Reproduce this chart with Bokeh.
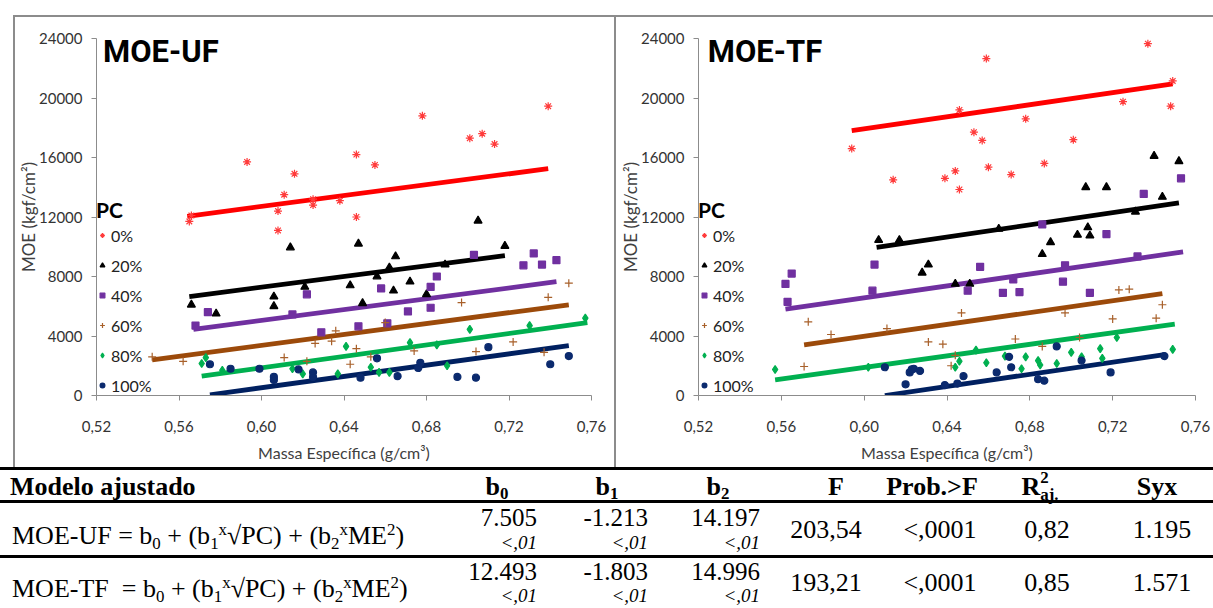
from bokeh.plotting import figure
from bokeh.models import Range1d, FixedTicker, Legend, LegendItem, Label, Div, Spacer
from bokeh.layouts import row, column
from bokeh.embed import file_html
from bokeh.resources import INLINE

# ---------------- data ----------------
pc_labels = ["0%", "20%", "40%", "60%", "80%", "100%"]
x_ticks = [0.52, 0.56, 0.60, 0.64, 0.68, 0.72, 0.76]
x_tick_labels = ["0,52", "0,56", "0,60", "0,64", "0,68", "0,72", "0,76"]
y_ticks = [0, 4000, 8000, 12000, 16000, 20000, 24000]
y_tick_labels = ["0", "4000", "8000", "12000", "16000", "20000", "24000"]

# MOE-UF
uf_me_pc0 = [0.565, 0.566, 0.593, 0.608, 0.608, 0.611, 0.616, 0.625, 0.625, 0.638, 0.646, 0.646, 0.655, 0.678, 0.701, 0.707, 0.713, 0.739]
uf_moe_pc0 = [11700, 12100, 15700, 12400, 11100, 13500, 14900, 13200, 12800, 13100, 16200, 12000, 15500, 18800, 17300, 17600, 16900, 19450]
uf_me_pc20 = [0.566, 0.578, 0.606, 0.606, 0.614, 0.621, 0.643, 0.647, 0.649, 0.656, 0.662, 0.664, 0.665, 0.672, 0.680, 0.689, 0.705, 0.718]
uf_moe_pc20 = [6100, 5500, 6650, 6000, 9950, 7300, 7400, 10200, 6200, 8000, 8600, 7050, 9350, 7650, 6800, 8800, 11750, 10050]
uf_me_pc40 = [0.568, 0.574, 0.615, 0.622, 0.629, 0.647, 0.658, 0.661, 0.671, 0.682, 0.682, 0.685, 0.703, 0.727, 0.732, 0.736, 0.743]
uf_moe_pc40 = [4700, 5600, 5450, 6800, 4250, 4650, 7200, 4850, 5650, 7300, 5900, 8000, 9450, 8750, 9550, 8800, 9100]
uf_me_pc60 = [0.547, 0.562, 0.611, 0.622, 0.626, 0.634, 0.636, 0.643, 0.646, 0.653, 0.660, 0.674, 0.697, 0.704, 0.722, 0.737, 0.739, 0.749]
uf_moe_pc60 = [2600, 2300, 2550, 2300, 3500, 3650, 4350, 2100, 3150, 2600, 4900, 3000, 6250, 2950, 3600, 2900, 6600, 7550]
uf_me_pc80 = [0.571, 0.573, 0.581, 0.615, 0.620, 0.637, 0.641, 0.653, 0.657, 0.662, 0.672, 0.685, 0.690, 0.701, 0.730, 0.757]
uf_moe_pc80 = [2150, 2550, 1700, 1800, 1450, 1450, 3300, 1900, 1550, 1550, 3550, 3400, 2000, 4450, 4700, 5200]
uf_me_pc100 = [0.575, 0.585, 0.599, 0.606, 0.606, 0.618, 0.625, 0.625, 0.648, 0.656, 0.666, 0.676, 0.677, 0.695, 0.704, 0.710, 0.740, 0.749]
uf_moe_pc100 = [2100, 1800, 1800, 1250, 1050, 1750, 1550, 1250, 1200, 2500, 1300, 1850, 2200, 1250, 1200, 3250, 2100, 2650]
# fitted lines (start / end)
uf_fit_me = [[0.564, 0.739], [0.565, 0.718], [0.567, 0.743], [0.547, 0.749], [0.571, 0.758], [0.575, 0.749]]
uf_fit_moe = [[12050, 15250], [6650, 9400], [4450, 7650], [2400, 6100], [1300, 4900], [50, 3350]]

# MOE-TF
tf_me_pc0 = [0.594, 0.614, 0.639, 0.644, 0.646, 0.646, 0.653, 0.657, 0.659, 0.660, 0.671, 0.678, 0.687, 0.701, 0.725, 0.737, 0.748, 0.749]
tf_moe_pc0 = [16600, 14500, 14600, 15100, 19200, 13850, 17700, 17150, 22650, 15350, 14850, 18600, 15600, 17200, 19750, 23650, 19450, 21150]
tf_me_pc20 = [0.607, 0.617, 0.628, 0.631, 0.644, 0.651, 0.665, 0.686, 0.690, 0.703, 0.707, 0.708, 0.709, 0.717, 0.731, 0.740, 0.744, 0.752]
tf_moe_pc20 = [10450, 10450, 8250, 8800, 7500, 7500, 11200, 9500, 10300, 10800, 14000, 11300, 10750, 14000, 12350, 16100, 13350, 15750]
tf_me_pc40 = [0.562, 0.563, 0.565, 0.604, 0.605, 0.650, 0.656, 0.667, 0.672, 0.675, 0.686, 0.696, 0.697, 0.709, 0.717, 0.732, 0.735, 0.753]
tf_moe_pc40 = [7500, 6300, 8200, 7050, 8800, 7050, 8650, 6900, 7800, 6950, 11500, 7650, 8750, 6900, 10850, 9350, 13550, 14600]
tf_me_pc60 = [0.571, 0.573, 0.584, 0.611, 0.631, 0.638, 0.642, 0.644, 0.647, 0.673, 0.686, 0.697, 0.704, 0.720, 0.723, 0.728, 0.741, 0.744]
tf_moe_pc60 = [1950, 4950, 4100, 4500, 3600, 3450, 2000, 2700, 5550, 3800, 3300, 5550, 3900, 5150, 7100, 7150, 5200, 6100]
tf_me_pc80 = [0.557, 0.602, 0.644, 0.646, 0.654, 0.659, 0.668, 0.676, 0.678, 0.684, 0.685, 0.693, 0.700, 0.705, 0.714, 0.715, 0.722, 0.749]
tf_moe_pc80 = [1750, 1900, 1900, 2300, 3050, 2200, 2650, 1800, 2600, 2350, 2050, 2150, 2900, 2600, 3150, 2500, 3900, 3100]
tf_me_pc100 = [0.610, 0.620, 0.622, 0.623, 0.624, 0.627, 0.639, 0.645, 0.648, 0.664, 0.670, 0.671, 0.684, 0.687, 0.693, 0.705, 0.719, 0.745]
tf_moe_pc100 = [1900, 750, 1550, 1750, 1800, 1650, 700, 800, 1300, 1550, 2600, 1900, 1100, 1000, 3300, 2350, 1550, 2650]
tf_fit_me = [[0.594, 0.749], [0.606, 0.752], [0.562, 0.754], [0.571, 0.744], [0.557, 0.750], [0.610, 0.745]]
tf_fit_moe = [[17800, 20950], [9950, 12950], [5800, 9650], [3400, 6850], [1050, 4800], [0, 2750]]

# table
tbl_models = ["MOE-UF", "MOE-TF"]
tbl_b0 = ["7.505", "12.493"]
tbl_b1 = ["-1.213", "-1.803"]
tbl_b2 = ["14.197", "14.996"]
tbl_sig = ["<,01", "<,01"]
tbl_f = ["203,54", "193,21"]
tbl_prob = ["<,0001", "<,0001"]
tbl_r2 = ["0,82", "0,85"]
tbl_syx = ["1.195", "1.571"]

# ---------------- styling ----------------
SANS = "Lato"
TITLE_FONT = "Roboto"
SERIF = "Liberation Serif"
line_colors = ["#FF0000", "#000000", "#7030A0", "#9C4A0A", "#00B050", "#002060"]
mark_colors = ["#FF3B3B", "#000000", "#7030A0", "#A8602A", "#00B050", "#0B2A6E"]
markers = ["asterisk", "triangle", "square", "cross", "diamond", "circle"]
sizes = [8, 8, 7, 8, 8, 7]
AX = "#8C8C8C"


def make_panel(title, me_lists, moe_lists, fit_me, fit_moe, width, left, frame_w, title_x):
    p = figure(width=width, height=450, x_range=Range1d(0.52, 0.76), y_range=Range1d(0, 24000),
               output_backend="svg", toolbar_location=None,
               min_border_left=left, min_border_right=width - left - frame_w,
               min_border_top=21, min_border_bottom=72)
    p.outline_line_color = None
    p.grid.visible = False
    p.background_fill_color = "white"
    p.border_fill_color = "white"

    for ax in (p.xaxis[0], p.yaxis[0]):
        ax.axis_line_color = AX
        ax.major_tick_line_color = AX
        ax.minor_tick_line_color = None
        ax.major_tick_out = 5
        ax.major_tick_in = 0
        ax.major_label_text_font = SANS
        ax.major_label_text_font_size = "15px"
        ax.major_label_text_color = "#333333"
        ax.axis_label_text_font = SANS
        ax.axis_label_text_font_size = "16px"
        ax.axis_label_text_font_style = "normal"
        ax.axis_label_text_color = "#404040"
    p.xaxis.ticker = FixedTicker(ticks=x_ticks)
    p.xaxis.major_label_overrides = dict(zip(x_ticks, x_tick_labels))
    p.yaxis.ticker = FixedTicker(ticks=y_ticks)
    p.yaxis.major_label_overrides = dict(zip(y_ticks, y_tick_labels))
    p.xaxis.major_label_standoff = 20
    p.yaxis.major_label_standoff = 9
    p.xaxis.axis_label = "Massa Específica (g/cm³)"
    p.yaxis.axis_label = "MOE (kgf/cm²)"
    p.xaxis.axis_label_standoff = 8
    p.yaxis.axis_label_standoff = -3
    p.yaxis.axis_label_text_font_size = "17px"

    items = []
    for i in range(6):
        p.line(fit_me[i], fit_moe[i], line_color=line_colors[i], line_width=4.8)
    for i in range(6):
        fill = None if markers[i] in ("asterisk", "cross") else mark_colors[i]
        r = p.scatter(me_lists[i], moe_lists[i], marker=markers[i], size=sizes[i],
                      line_color=mark_colors[i], fill_color=fill, line_width=1.2)
        items.append(LegendItem(label=pc_labels[i], renderers=[r]))

    leg = Legend(items=items, location=(0, 0), title="PC",
                 title_text_font=SANS, title_text_font_size="21px", title_text_font_style="bold",
                 title_text_color="#000000", title_standoff=3,
                 label_text_font=SANS, label_text_font_size="16px", label_text_color="#222222",
                 glyph_width=12, glyph_height=20, label_height=20, label_standoff=3,
                 spacing=10, padding=0, margin=0,
                 background_fill_alpha=0, border_line_color=None)
    p.add_layout(leg, "center")

    p.add_layout(Label(x=title_x, y=23150, text=title, text_font=TITLE_FONT, text_font_size="31px",
                       text_font_style="bold", text_color="#000000", text_baseline="alphabetic"))
    return p


p1 = make_panel("MOE-UF",
                [uf_me_pc0, uf_me_pc20, uf_me_pc40, uf_me_pc60, uf_me_pc80, uf_me_pc100],
                [uf_moe_pc0, uf_moe_pc20, uf_moe_pc40, uf_moe_pc60, uf_moe_pc80, uf_moe_pc100],
                uf_fit_me, uf_fit_moe, width=599, left=80, frame_w=496, title_x=0.5232)
p2 = make_panel("MOE-TF",
                [tf_me_pc0, tf_me_pc20, tf_me_pc40, tf_me_pc60, tf_me_pc80, tf_me_pc100],
                [tf_moe_pc0, tf_moe_pc20, tf_moe_pc40, tf_moe_pc60, tf_moe_pc80, tf_moe_pc100],
                tf_fit_me, tf_fit_moe, width=597, left=82, frame_w=497, title_x=0.5245)


# ---------------- table (HTML) ----------------
def esc(s):
    return s.replace("&", "&amp;").replace("<", "&lt;").replace(">", "&gt;")


def span(html, x, top, size, align="left", bold=False, italic=False):
    st = (f"position:absolute;top:{top}px;font-size:{size}px;line-height:{size}px;"
          f"white-space:nowrap;color:#000;")
    if bold:
        st += "font-weight:bold;"
    if italic:
        st += "font-style:italic;"
    if align == "left":
        st += f"left:{x}px;"
    elif align == "right":
        st += f"right:{1213 - x}px;"
    else:
        st += f"left:{x}px;transform:translateX(-50%);"
    return f'<span style="{st}">{html}</span>'


def rule(top, h):
    return f'<div style="position:absolute;left:0;top:{top}px;width:1213px;height:{h}px;background:#000;"></div>'


SUB = '<span style="font-size:0.65em;vertical-align:-0.25em;">{}</span>'
SUP = '<span style="font-size:0.65em;vertical-align:0.55em;">{}</span>'

parts = [rule(0, 3), rule(33, 3), rule(88, 3)]
HS = 26
parts.append(span("Modelo ajustado", 10, 7, HS, bold=True))
parts.append(span("b" + SUB.format("0"), 497, 7, HS, align="center", bold=True))
parts.append(span("b" + SUB.format("1"), 607, 7, HS, align="center", bold=True))
parts.append(span("b" + SUB.format("2"), 718, 7, HS, align="center", bold=True))
parts.append(span("F", 836, 7, HS, align="center", bold=True))
parts.append(span(esc("Prob.>F"), 932, 7, HS, align="center", bold=True))
r2 = ('R<span style="position:relative;display:inline-block;">'
      '<span style="position:absolute;left:0;top:-0.55em;font-size:0.65em;">2</span>'
      '<span style="font-size:0.65em;vertical-align:-0.3em;">aj.</span></span>')
parts.append(span(r2, 1040, 7, HS, align="center", bold=True))
parts.append(span("Syx", 1157, 7, HS, align="center", bold=True))

NUM, SIG, MID = 25, 19, 26
row_num_top = [38, 92]
row_mid_top = [50, 103]
row_sig_top = [66, 119]
for k in range(2):
    gap = "&nbsp;" if k == 1 else ""
    formula = (f"{tbl_models[k]}{gap} = b{SUB.format('0')} + (b{SUB.format('1')}{SUP.format('x')}&radic;PC)"
               f" + (b{SUB.format('2')}{SUP.format('x')}ME{SUP.format('2')})")
    parts.append(span(formula, 12, row_mid_top[k], MID))
    parts.append(span(esc(tbl_b0[k]), 537, row_num_top[k], NUM, align="right"))
    parts.append(span(esc(tbl_b1[k]), 648, row_num_top[k], NUM, align="right"))
    parts.append(span(esc(tbl_b2[k]), 760, row_num_top[k], NUM, align="right"))
    for xr in (537, 648, 760):
        parts.append(span(esc(tbl_sig[k]), xr, row_sig_top[k], SIG, align="right", italic=True))
    parts.append(span(esc(tbl_f[k]), 826, row_mid_top[k], MID, align="center"))
    parts.append(span(esc(tbl_prob[k]), 940, row_mid_top[k], MID, align="center"))
    parts.append(span(esc(tbl_r2[k]), 1047, row_mid_top[k], MID, align="center"))
    parts.append(span(esc(tbl_syx[k]), 1162, row_mid_top[k], MID, align="center"))

table_html = (f'<div style="position:relative;width:1213px;height:141px;overflow:hidden;'
              f'font-family:\'{SERIF}\',\'Times New Roman\',serif;background:#fff;">' + "".join(parts) + "</div>")
table = Div(text=table_html, width=1213, height=141, margin=0)

top_html = ('<div style="position:relative;width:1213px;height:17px;overflow:hidden;">'
            f'<div style="position:absolute;left:13px;top:15px;width:1200px;height:2px;background:{AX};"></div></div>')
top_div = Div(text=top_html, width=1213, height=17, margin=0)

GRAY = {"background-color": AX}
panels = row(Spacer(width=13, height=450), Spacer(width=2, height=450, styles=GRAY), p1,
             Spacer(width=2, height=450, styles=GRAY), p2)
layout = column(top_div, panels, table)

html = file_html(layout, INLINE)
html = html.replace("<head>", "<head><style>html,body{margin:0;padding:0;}</style>", 1)
open("out.html", "w").write(html)
